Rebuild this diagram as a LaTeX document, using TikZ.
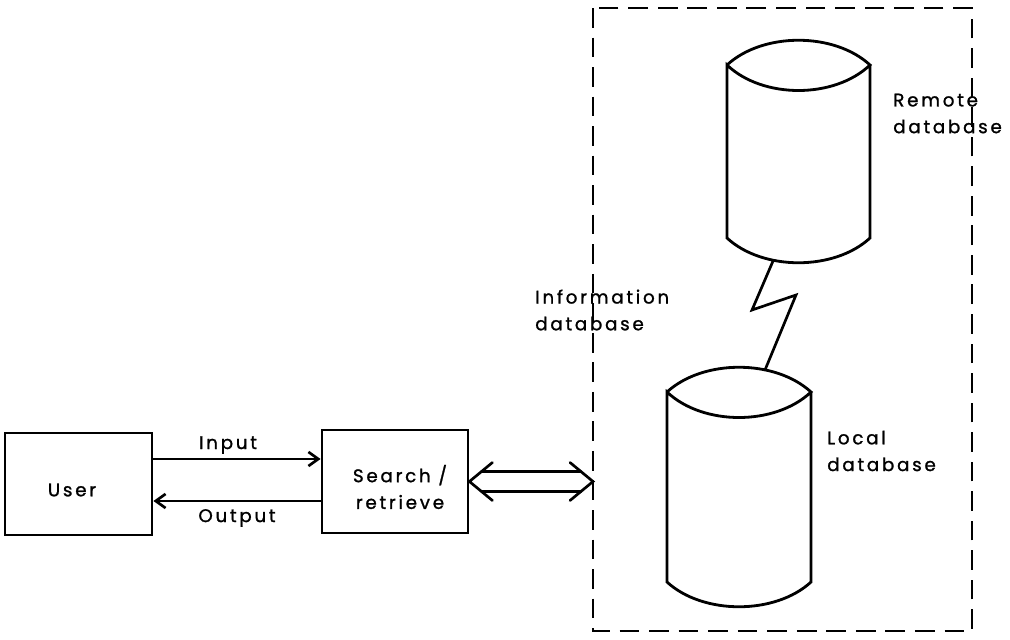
\documentclass[tikz,border=0pt]{standalone}
\usepackage{fontspec}
\setmainfont{Poppins}[LetterSpace=15, FakeBold=1.2]
\usetikzlibrary{arrows.meta,calc}

% database drum: name, left x, right x, y of top corners, y of bottom corners
\newcommand\dbdrum[5]{%
  \pgfmathsetmacro\qa{#2+0.25*(#3-#2)}%
  \pgfmathsetmacro\qb{#3-0.25*(#3-#2)}%
  \pgfmathsetmacro\mx{(#2+#3)/2}%
  \draw[drum] (#2,#4) .. controls (\qa,#4-33) and (\qb,#4-33) .. (#3,#4)
      .. controls (\qb,#4+34) and (\qa,#4+34) .. (#2,#4)
      -- (#2,#5) .. controls (\qa,#5+33) and (\qb,#5+33) .. (#3,#5) -- (#3,#4);
  \coordinate (#1-top) at (\mx,#4-25);
  \coordinate (#1-bot) at (\mx,#5+25);
}

\begin{document}
\begin{tikzpicture}[x=0.025cm,y=-0.025cm,
  lbl/.style={font=\fontsize{13}{19}\selectfont, inner sep=0pt},
  box/.style={draw, line width=2pt, inner sep=0pt},
  drum/.style={line width=2pt, line join=miter},
  link/.style={line width=1.9pt, line cap=round},
  flow/.style={link, -{Straight Barb[length=7pt,width=10pt,line width=1.9pt]}},
  dashbox/.style={line width=1.9pt, dash pattern=on 14pt off 7pt},
]
\useasboundingbox (0,0) rectangle (1010,639);

% user and search/retrieve blocks
\node[box, minimum width=3.675cm, minimum height=2.55cm] (user) at (78.5,484) {};
\node[lbl] at (72,490) {User};
\node[box, minimum width=3.65cm, minimum height=2.575cm] (search) at (395,481.5) {};
\node[lbl, align=center] at (400,487) {Search /\\retrieve};

% input / output flows
\coordinate (inrow) at (0,459);
\coordinate (outrow) at (0,501);
\draw[flow] (user.east |- inrow) -- (search.west |- inrow);
\draw[flow] (search.west |- outrow) -- (user.east |- outrow);
\node[lbl] at (228,445) {Input};
\node[lbl] at (237,518) {Output};

% information database enclosure
\coordinate (info-nw) at (593,8);
\coordinate (info-se) at (972,631);
\draw[dashbox] (info-nw) rectangle (info-se);
\node[lbl, align=left, anchor=west] at (535,310) {Information\\database};

% two-way broad link between search/retrieve and the enclosure
\coordinate (tipL) at (search.east);
\coordinate (tipR) at (info-nw |- search.east);
\draw[link] ([shift={(23,-19)}]tipL) -- (tipL) -- ([shift={(23,19)}]tipL);
\draw[link] ([shift={(-23,-19)}]tipR) -- (tipR) -- ([shift={(-23,19)}]tipR);
\draw[link] ([shift={(12,-10)}]tipL) -- ([shift={(-12,-10)}]tipR);
\draw[link] ([shift={(12,10)}]tipL) -- ([shift={(-12,10)}]tipR);

% databases
\dbdrum{remote}{727}{870}{65}{238}
\dbdrum{local}{667}{811}{392}{582}
\node[lbl, align=left, anchor=west] at (893,113.5) {Remote\\database};
\node[lbl, align=left, anchor=west] at (827,451) {Local\\database};

% communication link between the two databases
\coordinate (rlink) at (773,261);
\coordinate (llink) at (765,370);
\draw[link, line join=miter] (rlink) -- (752,310) -- (796,295) -- (llink);
\end{tikzpicture}
\end{document}
